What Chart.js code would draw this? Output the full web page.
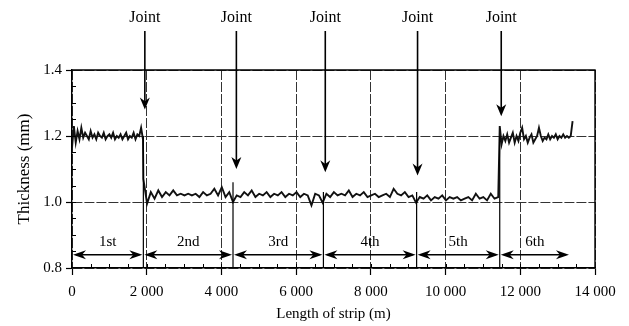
<!DOCTYPE html>
<html>
<head>
<meta charset="utf-8">
<script src="https://cdn.jsdelivr.net/npm/chart.js@4.4.1/dist/chart.umd.min.js"></script>
<style>
  html, body { margin: 0; padding: 0; background: #fff; }
</style>
</head>
<body>
<canvas id="thicknessChart" width="629" height="326"></canvas>
<script>
// Thickness trace along the welded strip
const firstCoilStart = 0;
const firstCoilStep = 50;
const firstCoilMm = [
    1.165, 1.23, 1.18, 1.215, 1.19, 1.225, 1.195, 1.21, 1.2, 1.19,
    1.215, 1.195, 1.205, 1.19, 1.21, 1.2, 1.195, 1.21, 1.19, 1.2,
    1.205, 1.195, 1.21, 1.19, 1.2, 1.195, 1.205, 1.19, 1.2, 1.21,
    1.19, 1.2, 1.195, 1.21, 1.19, 1.205, 1.2, 1.225, 1.19
];

const middleCoilsStart = 1910;
const middleCoilsStep = 100;
const middleCoilsMm = [
    // 2nd
    1.07, 0.995, 1.03, 1.01, 1.035, 1.015, 1.03, 1.02, 1.035, 1.02,
    1.025, 1.02, 1.025, 1.02, 1.025, 1.015, 1.03, 1.02, 1.025, 1.04,
    1.02, 1.045, 1.015, 1.03, 1.0,
    // 3rd
    1.02, 1.015, 1.03, 1.02, 1.035, 1.015, 1.025, 1.02, 1.03, 1.015,
    1.025, 1.02, 1.03, 1.015, 1.025, 1.02, 1.03, 1.015, 1.025, 1.02,
    0.99, 1.025, 1.02, 0.998,
    // 4th
    1.025, 1.015, 1.03, 1.02, 1.025, 1.02, 1.035, 1.015, 1.025, 1.02,
    1.03, 1.015, 1.02, 1.025, 1.015, 1.02, 1.025, 1.015, 1.04, 1.025,
    1.02, 1.03, 1.015, 1.02, 0.998,
    // 5th
    1.015, 1.01, 1.02, 1.005, 1.015, 1.01, 1.02, 1.005, 1.015, 1.01,
    1.015, 1.005, 1.01, 1.015, 1.005, 1.025, 1.01, 1.015, 1.005, 1.025,
    1.01, 1.015
];

const lastCoilStart = 11450;
const lastCoilStep = 50;
const lastCoilMm = [
    1.23, 1.175, 1.2, 1.185, 1.205, 1.18, 1.195, 1.21, 1.18, 1.2,
    1.185, 1.21, 1.225, 1.19, 1.2, 1.18, 1.195, 1.205, 1.18, 1.19,
    1.2, 1.225, 1.2, 1.185, 1.195, 1.19, 1.205, 1.19, 1.2, 1.195,
    1.205, 1.19, 1.2, 1.195, 1.205, 1.195, 1.2, 1.195, 1.2, 1.245
];

// Weld joints and coil segments
const jointLabel = 'Joint';
const jointArrowM = [1950, 4400, 6780, 9250, 11490];
const jointArrowTipMm = [1.28, 1.1, 1.09, 1.08, 1.26];
const jointDividerM = [1910, 4310, 6730, 9225, 11450];
const jointDividerTopMm = [1.2, 1.06, 1.03, 1.03, 1.2];
const segmentNames = ['1st', '2nd', '3rd', '4th', '5th', '6th'];
const segmentStartM = [0, 1910, 4310, 6730, 9225, 11450];
const segmentEndM = [1910, 4310, 6730, 9225, 11450, 13330];
const segmentArrowMm = 0.84;

// Axes
const xTicks = [0, 2000, 4000, 6000, 8000, 10000, 12000, 14000];
const yTicks = [0.8, 1.0, 1.2, 1.4];
const xMinorStep = 500;
const yMinorStep = 0.05;

const FONT = "'Liberation Serif', 'Times New Roman', serif";

function coilPoints(start, step, values) {
    return values.map((v, i) => ({ x: start + i * step, y: v }));
}

const tracePoints = [
    ...coilPoints(firstCoilStart, firstCoilStep, firstCoilMm),
    ...coilPoints(middleCoilsStart, middleCoilsStep, middleCoilsMm),
    ...coilPoints(lastCoilStart, lastCoilStep, lastCoilMm)
];

function fmtThousands(v) {
    return v >= 1000 ? Math.floor(v / 1000) + ' ' + String(v % 1000).padStart(3, '0') : String(v);
}

function arrowHead(ctx, tx, ty, dx, dy, len, half) {
    // tip at (tx, ty), pointing along (dx, dy)
    const bx = tx - dx * len, by = ty - dy * len;
    const nx = -dy, ny = dx;
    ctx.beginPath();
    ctx.moveTo(tx, ty);
    ctx.lineTo(bx + nx * half, by + ny * half);
    ctx.lineTo(tx - dx * len * 0.7, ty - dy * len * 0.7);
    ctx.lineTo(bx - nx * half, by - ny * half);
    ctx.closePath();
    ctx.fill();
}

const stripAnnotations = {
    id: 'stripAnnotations',
    afterDatasetsDraw(chart) {
        const { ctx, chartArea: a, scales: { x, y } } = chart;
        ctx.save();
        ctx.strokeStyle = '#000';
        ctx.fillStyle = '#000';

        // frame top / right
        ctx.lineWidth = 1.4;
        ctx.beginPath();
        ctx.moveTo(a.left, a.top);
        ctx.lineTo(a.right, a.top);
        ctx.lineTo(a.right, a.bottom);
        ctx.stroke();

        // inward minor ticks
        ctx.lineWidth = 1;
        ctx.beginPath();
        for (let v = xMinorStep; v < x.max; v += xMinorStep) {
            const px = Math.round(x.getPixelForValue(v)) + 0.5;
            ctx.moveTo(px, a.bottom);
            ctx.lineTo(px, a.bottom - 4);
        }
        for (let k = 1; y.min + k * yMinorStep < y.max - 1e-9; k++) {
            const py = Math.round(y.getPixelForValue(y.min + k * yMinorStep)) + 0.5;
            ctx.moveTo(a.left, py);
            ctx.lineTo(a.left + 4, py);
        }
        ctx.stroke();

        // joint dividers
        ctx.lineWidth = 1.2;
        ctx.beginPath();
        jointDividerM.forEach((m, i) => {
            const px = x.getPixelForValue(m);
            ctx.moveTo(px, y.getPixelForValue(y.min));
            ctx.lineTo(px, y.getPixelForValue(jointDividerTopMm[i]));
        });
        ctx.stroke();

        // segment arrows with labels
        const ay = y.getPixelForValue(segmentArrowMm);
        ctx.font = '15px ' + FONT;
        ctx.textAlign = 'center';
        ctx.textBaseline = 'middle';
        segmentNames.forEach((name, i) => {
            const x0 = x.getPixelForValue(segmentStartM[i]);
            const x1 = x.getPixelForValue(segmentEndM[i]);
            ctx.lineWidth = 1.5;
            ctx.beginPath();
            ctx.moveTo(x0 + 4, ay);
            ctx.lineTo(x1 - 4, ay);
            ctx.stroke();
            arrowHead(ctx, x0 + 1, ay, -1, 0, 13, 4.5);
            arrowHead(ctx, x1 - 1, ay, 1, 0, 13, 4.5);
            ctx.fillText(name, (x0 + x1) / 2, ay - 13);
        });

        // joint call-outs from the top
        ctx.font = '16px ' + FONT;
        jointArrowM.forEach((m, i) => {
            const px = x.getPixelForValue(m);
            const tip = y.getPixelForValue(jointArrowTipMm[i]);
            ctx.fillText(jointLabel, px, 18);
            ctx.lineWidth = 1.6;
            ctx.beginPath();
            ctx.moveTo(px, 31);
            ctx.lineTo(px, tip - 6);
            ctx.stroke();
            arrowHead(ctx, px, tip, 0, 1, 12, 5);
        });

        ctx.restore();
    }
};

const ctx = document.getElementById('thicknessChart').getContext('2d');

new Chart(ctx, {
    type: 'line',
    data: {
        datasets: [{
            data: tracePoints,
            borderColor: '#111',
            borderWidth: 1.9,
            pointRadius: 0,
            tension: 0,
            fill: false
        }]
    },
    options: {
        responsive: false,
        animation: false,
        layout: { padding: { left: 0, right: 34, top: 70, bottom: 0 } },
        plugins: {
            legend: { display: false },
            tooltip: { enabled: false }
        },
        scales: {
            x: {
                type: 'linear',
                min: 0,
                max: 14000,
                afterBuildTicks: s => { s.ticks = xTicks.map(v => ({ value: v })); },
                afterFit: s => { s.height = 58; },
                ticks: {
                    callback: v => fmtThousands(v),
                    font: { family: FONT, size: 15 },
                    color: '#000',
                    padding: 8,
                    maxRotation: 0
                },
                grid: {
                    color: '#333',
                    lineWidth: 1,
                    tickLength: 7,
                    tickColor: '#000',
                    tickWidth: 1.2
                },
                border: { color: '#000', width: 1.4, dash: [10, 2] },
                title: {
                    display: true,
                    text: 'Length of strip (m)',
                    font: { family: FONT, size: 15 },
                    color: '#000',
                    padding: { top: 0, bottom: 3 }
                }
            },
            y: {
                min: 0.8,
                max: 1.4,
                afterBuildTicks: s => { s.ticks = yTicks.map(v => ({ value: v })); },
                afterFit: s => { s.width = 72; },
                ticks: {
                    callback: v => v.toFixed(1),
                    font: { family: FONT, size: 15 },
                    color: '#000',
                    padding: 4
                },
                grid: {
                    color: '#333',
                    lineWidth: 1,
                    tickLength: 6,
                    tickColor: '#000',
                    tickWidth: 1.2
                },
                border: { color: '#000', width: 1.4, dash: [10, 2] },
                title: {
                    display: true,
                    text: 'Thickness (mm)',
                    font: { family: FONT, size: 17 },
                    color: '#000',
                    padding: { top: 14, bottom: 0 }
                }
            }
        }
    },
    plugins: [stripAnnotations]
});
</script>
</body>
</html>
